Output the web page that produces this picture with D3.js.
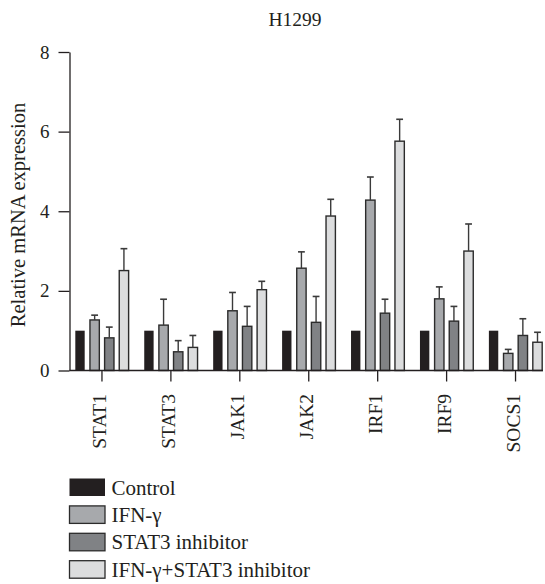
<!DOCTYPE html>
<html>
<head>
<meta charset="utf-8">
<script src="https://cdn.jsdelivr.net/npm/d3@7"></script>
<style>
  html, body { margin: 0; padding: 0; background: #fff; }
  svg { display: block; }
  text { font-family: "Liberation Serif", "Times New Roman", serif; fill: #231f20; }
</style>
</head>
<body>
<svg id="chart" width="545" height="584"></svg>
<script>
// ---- data ----
const categories = ["STAT1", "STAT3", "JAK1", "JAK2", "IRF1", "IRF9", "SOCS1"];
const seriesNames = ["Control", "IFN-γ", "STAT3 inhibitor", "IFN-γ+STAT3 inhibitor"];
const controlValues = [1, 1, 1, 1, 1, 1, 1];
const ifnValues     = [1.27, 1.14, 1.50, 2.57, 4.28, 1.80, 0.43];
const inhValues     = [0.82, 0.47, 1.11, 1.21, 1.44, 1.24, 0.88];
const comboValues   = [2.51, 0.58, 2.03, 3.88, 5.76, 3.00, 0.71];
const controlErr = [0, 0, 0, 0, 0, 0, 0];
const ifnErr     = [0.12, 0.65, 0.46, 0.41, 0.58, 0.30, 0.10];
const inhErr     = [0.27, 0.28, 0.50, 0.65, 0.35, 0.37, 0.42];
const comboErr   = [0.55, 0.30, 0.21, 0.42, 0.55, 0.68, 0.25];
const yTicks = [0, 2, 4, 6, 8];
const seriesColors = ["#231f20", "#a7a9ac", "#808285", "#dcddde"];

const seriesValues = [controlValues, ifnValues, inhValues, comboValues];
const seriesErrs = [controlErr, ifnErr, inhErr, comboErr];

const rows = [];
categories.forEach((c, i) => {
  seriesNames.forEach((s, j) => {
    rows.push({ cat: c, series: s, si: j, value: seriesValues[j][i], err: seriesErrs[j][i] });
  });
});

const svg = d3.select("#chart");

const y = d3.scaleLinear().domain([0, 8]).range([370.5, 52]);
const x = d3.scaleBand().domain(categories).range([67.5, 550]).padding(0);
const groupW = 53.3;
const xs = d3.scaleBand().domain(seriesNames).range([0, groupW]).paddingInner(0.36).paddingOuter(0);
const color = d3.scaleOrdinal().domain(seriesNames).range(seriesColors);
const axisX = 69.5;

// title
svg.append("text").attr("x", 295).attr("y", 26).attr("text-anchor", "middle")
  .style("font-size", "19.5px").text("H1299");

// y axis
const yAxis = svg.append("g").attr("transform", `translate(${axisX},0)`)
  .call(d3.axisLeft(y).tickValues(yTicks).tickFormat(d3.format("d")).tickSize(11).tickSizeOuter(0).tickPadding(9));
yAxis.selectAll("path, line").attr("stroke", "#231f20").attr("stroke-width", 1.3);
yAxis.selectAll("text").style("font-size", "19px").style("font-family", "Liberation Serif, serif").attr("fill", "#231f20");

// y label
svg.append("text").attr("transform", "translate(25,215) rotate(-90)")
  .attr("text-anchor", "middle").style("font-size", "20.5px").text("Relative mRNA expression");

// bars
const bars = svg.append("g");
rows.forEach(d => {
  const gx = x(d.cat) + (x.bandwidth() - groupW) / 2 + xs(d.series);
  bars.append("rect")
    .attr("x", gx).attr("y", y(d.value))
    .attr("width", xs.bandwidth()).attr("height", y(0) - y(d.value))
    .attr("fill", color(d.series))
    .attr("stroke", d.si === 0 ? "none" : "#2b2b2b")
    .attr("stroke-width", 1.4);
  if (d.err > 0) {
    const cx = gx + xs.bandwidth() / 2;
    bars.append("line").attr("x1", cx).attr("x2", cx)
      .attr("y1", y(d.value)).attr("y2", y(d.value + d.err))
      .attr("stroke", "#3a3a3a").attr("stroke-width", 1.4);
    bars.append("line").attr("x1", cx - 3.4).attr("x2", cx + 3.4)
      .attr("y1", y(d.value + d.err)).attr("y2", y(d.value + d.err))
      .attr("stroke", "#3a3a3a").attr("stroke-width", 1.6);
  }
});

// x axis
const xAxis = svg.append("g").attr("transform", `translate(0,${y(0)})`)
  .call(d3.axisBottom(x).tickSize(11).tickSizeOuter(0).tickFormat(""));
xAxis.select(".domain").remove();
xAxis.selectAll("line").attr("stroke", "#231f20").attr("stroke-width", 1.3);
svg.append("line").attr("x1", axisX).attr("x2", 543).attr("y1", y(0)).attr("y2", y(0))
  .attr("stroke", "#231f20").attr("stroke-width", 1.3);

// category labels
svg.append("g").selectAll("text").data(categories).join("text")
  .attr("transform", d => `translate(${x(d) + x.bandwidth() / 2 + 4},394) rotate(-90)`)
  .attr("text-anchor", "end").style("font-size", "19.5px").text(d => d);

// legend
const legend = svg.append("g");
seriesNames.forEach((s, j) => {
  const top = 478.5 + j * 27.4;
  legend.append("rect").attr("x", 69.5).attr("y", top).attr("width", 35.5).attr("height", 17.5)
    .attr("fill", color(s)).attr("stroke", j === 0 ? "none" : "#2b2b2b").attr("stroke-width", 1.3);
  legend.append("text").attr("x", 111.5).attr("y", top + 16).style("font-size", "21px").text(s);
});
</script>
</body>
</html>
